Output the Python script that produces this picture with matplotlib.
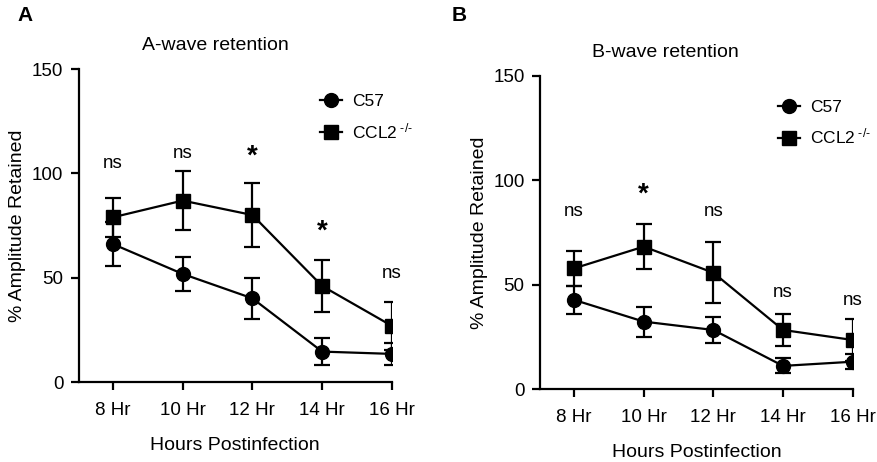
import numpy as np
import matplotlib
matplotlib.use('Agg')
import matplotlib.pyplot as plt
from matplotlib.lines import Line2D

plt.rcParams['font.family'] = ['Liberation Sans', 'DejaVu Sans']
plt.rcParams['mathtext.fontset'] = 'custom'
plt.rcParams['mathtext.rm'] = 'Liberation Sans'
plt.rcParams['mathtext.it'] = 'Liberation Sans'

hours = ['8 Hr', '10 Hr', '12 Hr', '14 Hr', '16 Hr']

# A-wave
a_c57 = [66.2, 51.9, 40.2, 14.7, 13.6]
a_c57_err = [10.4, 8.2, 9.7, 6.4, 5.4]
a_ccl2 = [79.0, 87.0, 80.1, 46.1, 27.0]
a_ccl2_err = [9.2, 14.1, 15.2, 12.3, 11.6]
a_sig = ['ns', 'ns', '*', '*', 'ns']
a_sig_y = [105, 109.5, 108, 72, 52]

# B-wave
b_c57 = [42.8, 32.4, 28.4, 11.2, 13.2]
b_c57_err = [6.6, 7.2, 6.2, 3.6, 3.5]
b_ccl2 = [57.9, 68.3, 55.8, 28.4, 23.6]
b_ccl2_err = [8.3, 10.8, 14.6, 7.7, 9.9]
b_sig = ['ns', '*', 'ns', 'ns', 'ns']
b_sig_y = [85, 93, 85, 46.5, 42.5]

ccl2_label = r'CCL2$^{\ \text{-/-}}$'


def panel(ax, c57, c57_err, ccl2, ccl2_err, sig, sig_y, title, title_x, legend_anchor):
    x = np.arange(len(hours))
    ax.errorbar(x, c57, yerr=c57_err, color='black', marker='o', markersize=10,
                lw=1.6, elinewidth=1.6, capsize=6, capthick=1.6)
    ax.errorbar(x, ccl2, yerr=ccl2_err, color='black', marker='s', markersize=9.5,
                lw=1.6, elinewidth=1.6, capsize=6, capthick=1.6)
    for xi, s, yv in zip(x, sig, sig_y):
        if s == '*':
            ax.text(xi, yv, s, ha='center', va='center', fontsize=20, fontweight='bold')
        else:
            ax.text(xi, yv, s, ha='center', va='center', fontsize=13.5)
    ax.set_xlim(-0.49, 4.0)
    ax.set_ylim(0, 150)
    ax.set_xticks(x)
    ax.set_xticklabels(hours)
    ax.set_yticks([0, 50, 100, 150])
    ax.spines['top'].set_visible(False)
    ax.spines['right'].set_visible(False)
    ax.spines['left'].set_linewidth(1.6)
    ax.spines['bottom'].set_linewidth(1.6)
    ax.tick_params(axis='both', width=1.6, length=6, labelsize=13.5, pad=5)
    ax.tick_params(axis='x', pad=8)
    ax.set_xlabel('Hours Postinfection', fontsize=14, labelpad=13)
    ax.set_ylabel('% Amplitude Retained', fontsize=14, labelpad=4)
    ax.set_title(title, fontsize=14, pad=14, x=title_x)
    handles = [
        Line2D([], [], color='black', marker='o', markersize=10, lw=1.6),
        Line2D([], [], color='black', marker='s', markersize=9.5, lw=1.6),
    ]
    ax.legend(handles, ['C57', ccl2_label], loc='upper left',
              bbox_to_anchor=legend_anchor, frameon=False,
              fontsize=12.5, handlelength=1.3, handletextpad=0.55,
              labelspacing=0.7)


fig = plt.figure(figsize=(8.77, 4.62), dpi=100)
ax1 = fig.add_axes([0.0897, 0.1725, 0.3572, 0.6781])
ax2 = fig.add_axes([0.6157, 0.1574, 0.3566, 0.6781])

panel(ax1, a_c57, a_c57_err, a_ccl2, a_ccl2_err, a_sig, a_sig_y,
      'A-wave retention', 0.435, (0.72, 0.97))
panel(ax2, b_c57, b_c57_err, b_ccl2, b_ccl2_err, b_sig, b_sig_y,
      'B-wave retention', 0.40, (0.71, 0.975))

fig.text(0.02, 0.988, 'A', fontsize=15, fontweight='bold', va='top')
fig.text(0.515, 0.988, 'B', fontsize=15, fontweight='bold', va='top')

fig.savefig('out.png', dpi=100)
